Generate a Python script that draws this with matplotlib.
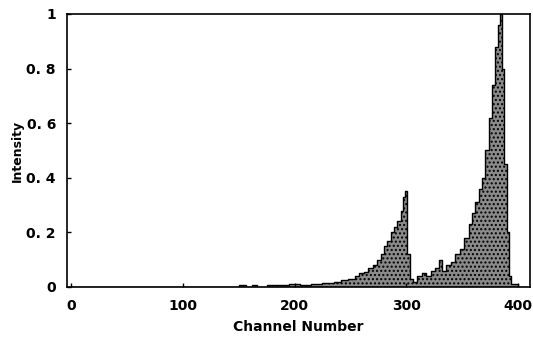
import matplotlib
matplotlib.use("Agg")
import matplotlib.pyplot as plt
import numpy as np

# Spectrum (channel, intensity)
channels = [0, 150, 156, 162, 166, 175, 185, 195, 205, 215, 225, 235, 242, 248, 254,
            258, 262, 266, 270, 274, 277, 280, 283, 286, 289, 292, 295, 297, 299, 301,
            303, 306, 310, 314, 318, 322, 326, 329, 332, 336, 340, 344, 348, 352, 356,
            359, 362, 365, 368, 371, 374, 377, 380, 382, 384, 386, 388, 390, 392, 394, 400, 411]
intensity = [0.0, 0.008, 0.0, 0.008, 0.0, 0.006, 0.008, 0.01, 0.008, 0.012, 0.014, 0.02, 0.025, 0.03, 0.04,
             0.05, 0.055, 0.07, 0.08, 0.10, 0.12, 0.15, 0.17, 0.20, 0.22, 0.24, 0.28, 0.33, 0.35, 0.12,
             0.03, 0.02, 0.04, 0.05, 0.04, 0.06, 0.07, 0.10, 0.06, 0.08, 0.09, 0.12, 0.14, 0.18, 0.23,
             0.27, 0.31, 0.36, 0.40, 0.50, 0.62, 0.74, 0.88, 0.96, 1.0, 0.80, 0.45, 0.20, 0.04, 0.01, 0.0, 0.0]

x_ticks = [0, 100, 200, 300, 400]
y_ticks = [0, 0.2, 0.4, 0.6, 0.8, 1.0]
y_tick_labels = ["0", "0. 2", "0. 4", "0. 6", "0. 8", "1"]

plt.rcParams["font.family"] = ["Liberation Sans Narrow", "DejaVu Sans"]

fig = plt.figure(figsize=(5.33, 3.38), dpi=100)
ax = fig.add_axes([0.1257, 0.151, 0.8687, 0.8076])

ax.fill_between(channels, intensity, step="post", facecolor="#8a8a8a",
                edgecolor="black", hatch="....", linewidth=0)
ax.step(channels, intensity, where="post", color="black", linewidth=1.0)

ax.set_xlim(-4, 411)
ax.set_ylim(0, 1.0)
ax.set_xticks(x_ticks)
ax.set_yticks(y_ticks)
ax.set_yticklabels(y_tick_labels)
ax.tick_params(direction="in", length=3, width=1, labelsize=10)
for lab in ax.get_xticklabels() + ax.get_yticklabels():
    lab.set_fontweight("bold")
ax.tick_params(axis="x", pad=9)
ax.tick_params(axis="y", pad=8)
for s in ax.spines.values():
    s.set_linewidth(1.2)

ax.set_xlabel("Channel Number", fontsize=10, fontweight="bold", labelpad=5)
ax.set_ylabel("Intensity", fontsize=9, fontweight="bold", labelpad=2)

fig.savefig("out.png", dpi=100)
